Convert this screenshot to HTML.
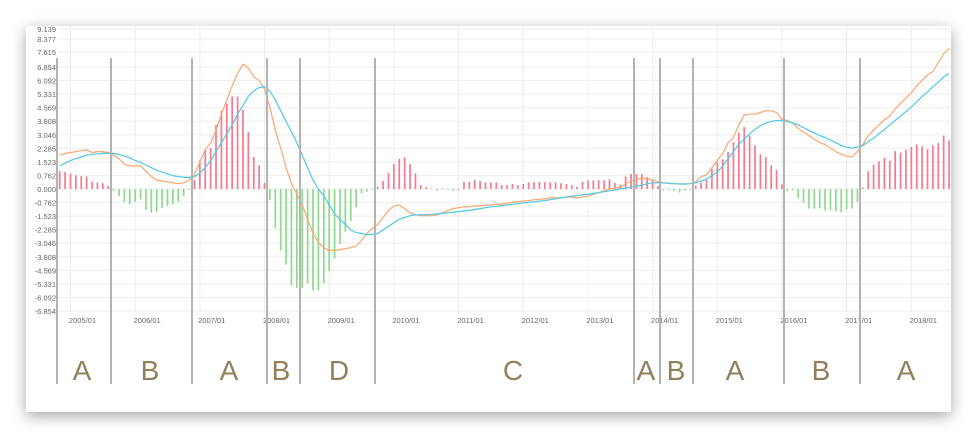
<!DOCTYPE html>
<html><head><meta charset="utf-8"><style>
html,body{margin:0;padding:0;background:#fff;}
body{width:978px;height:445px;overflow:hidden;position:relative;font-family:"Liberation Sans",sans-serif;}
#card{position:absolute;left:26px;top:26px;width:925px;height:386px;background:#fff;box-shadow:0 4px 14px rgba(0,0,0,0.35);}
svg{position:absolute;left:0;top:0;}
</style></head><body>
<div id="card"></div>
<svg id="chart" width="978" height="445"></svg>
<script>
const yTickLabels=["9.139","8.377","7.615","6.854","6.092","5.331","4.569","3.808","3.046","2.285","1.523","0.762","0.000","-0.762","-1.523","-2.285","-3.046","-3.808","-4.569","-5.331","-6.092","-6.854"];
const xTickLabels=["2005/01","2006/01","2007/01","2008/01","2009/01","2010/01","2011/01","2012/01","2013/01","2014/01","2015/01","2016/01","2017/01","2018/01"];
const dif=[1.9,2.0,2.05,2.1,2.15,2.2,2.05,2.1,2.1,2.05,1.9,1.7,1.4,1.3,1.3,1.3,1.0,0.7,0.5,0.45,0.4,0.35,0.3,0.35,0.5,0.8,1.5,2.2,2.6,3.3,4.2,5.0,5.8,6.5,7.0,6.8,6.3,6.1,5.6,4.6,3.3,2.3,1.2,0.3,-0.3,-0.9,-1.7,-2.5,-3.0,-3.3,-3.45,-3.45,-3.4,-3.35,-3.3,-3.2,-2.9,-2.5,-2.2,-2.0,-1.6,-1.2,-0.95,-0.9,-1.1,-1.35,-1.45,-1.5,-1.5,-1.5,-1.45,-1.35,-1.2,-1.1,-1.05,-1.0,-1.0,-0.95,-0.95,-0.9,-0.9,-0.85,-0.85,-0.8,-0.75,-0.7,-0.68,-0.65,-0.6,-0.58,-0.55,-0.5,-0.5,-0.5,-0.45,-0.45,-0.5,-0.45,-0.4,-0.3,-0.2,-0.1,0.0,0.05,0.1,0.3,0.45,0.55,0.6,0.6,0.5,0.4,0.35,0.3,0.3,0.28,0.28,0.3,0.4,0.7,0.8,1.2,1.6,2.0,2.6,2.9,3.6,4.15,4.2,4.2,4.3,4.4,4.4,4.3,3.9,3.85,3.7,3.4,3.2,3.0,2.8,2.6,2.5,2.3,2.1,1.95,1.85,1.8,2.1,2.5,3.0,3.3,3.6,3.9,4.1,4.5,4.8,5.1,5.4,5.8,6.1,6.4,6.6,7.1,7.6,7.9];
const dea=[1.3,1.45,1.6,1.7,1.8,1.9,1.95,1.98,2.0,2.0,2.0,1.95,1.85,1.75,1.6,1.5,1.35,1.2,1.05,0.95,0.85,0.75,0.7,0.65,0.65,0.7,0.9,1.2,1.6,2.1,2.6,3.1,3.6,4.2,4.7,5.2,5.5,5.7,5.75,5.5,5.0,4.4,3.8,3.2,2.6,1.9,1.2,0.5,0.0,-0.4,-0.9,-1.4,-1.7,-2.0,-2.3,-2.45,-2.5,-2.55,-2.55,-2.5,-2.3,-2.1,-1.9,-1.7,-1.6,-1.5,-1.45,-1.45,-1.45,-1.42,-1.4,-1.37,-1.33,-1.3,-1.27,-1.23,-1.2,-1.15,-1.1,-1.05,-1.0,-0.97,-0.93,-0.9,-0.86,-0.82,-0.78,-0.75,-0.72,-0.68,-0.65,-0.6,-0.55,-0.5,-0.45,-0.4,-0.37,-0.33,-0.3,-0.25,-0.2,-0.15,-0.1,-0.05,0.0,0.05,0.1,0.15,0.2,0.3,0.35,0.35,0.35,0.33,0.3,0.28,0.28,0.3,0.35,0.45,0.55,0.75,0.95,1.3,1.7,2.1,2.5,2.8,3.1,3.35,3.55,3.7,3.8,3.85,3.85,3.8,3.7,3.6,3.45,3.3,3.15,3.0,2.9,2.75,2.6,2.45,2.35,2.3,2.35,2.45,2.65,2.85,3.1,3.35,3.6,3.85,4.1,4.35,4.6,4.9,5.2,5.45,5.75,6.0,6.3,6.5];
const hist=[1.0,0.95,0.86,0.77,0.73,0.7,0.4,0.36,0.33,0.17,-0.1,-0.4,-0.73,-0.85,-0.73,-0.6,-1.16,-1.33,-1.3,-1.07,-0.97,-0.85,-0.73,-0.4,-0.05,0.5,1.6,2.2,2.3,3.6,4.4,4.8,5.2,5.2,4.45,3.2,1.8,1.33,0.34,-0.6,-2.2,-3.45,-4.25,-5.4,-5.55,-5.55,-5.3,-5.7,-5.7,-5.3,-4.6,-3.9,-3.1,-2.4,-1.8,-1.03,-0.25,-0.15,-0.05,0.13,0.45,0.9,1.4,1.7,1.78,1.4,0.88,0.22,0.1,0.04,-0.09,0.04,-0.05,-0.09,0.0,0.4,0.4,0.5,0.45,0.37,0.37,0.37,0.22,0.22,0.28,0.22,0.28,0.37,0.38,0.4,0.4,0.37,0.37,0.32,0.28,0.22,0.13,0.4,0.48,0.48,0.5,0.49,0.54,0.34,0.24,0.71,0.84,0.84,0.84,0.67,0.49,0.17,-0.06,-0.06,-0.1,-0.2,-0.1,-0.06,0.2,0.36,0.52,1.14,1.5,1.67,2.08,2.64,3.16,3.48,3.0,2.45,1.95,1.8,1.33,1.05,0.26,-0.13,-0.07,-0.5,-0.77,-1.1,-1.1,-1.1,-1.2,-1.2,-1.25,-1.3,-1.14,-1.1,-0.73,0.07,1.0,1.37,1.55,1.76,1.6,2.13,2.04,2.2,2.36,2.5,2.4,2.23,2.45,2.58,3.0,2.73];
const phaseLabels=["A","B","A","B","D","C","A","B","A","B","A"];

const NS="http://www.w3.org/2000/svg";
const svg=document.getElementById('chart');
const X0=59.7,DX=5.39,ZERO=189,PX=17.8;
function xIdx(i){return X0+DX*i;}
function xYear(y){return X0+DX*((y-2004)*12-10);}
function yVal(v){return ZERO-v*PX;}
function mk(t,a){const e=document.createElementNS(NS,t);for(const k in a)e.setAttribute(k,a[k]);svg.appendChild(e);return e;}

const yLabelPos=[29,39,52];
yTickLabels.forEach((s,k)=>{
  const y=k<3?yLabelPos[k]:yVal(parseFloat(s));
  const g=mk('line',{x1:58,x2:950,y1:y,y2:y,stroke:'#eeeeee','stroke-width':1});
  
  
  const t=mk('text',{x:56,y:y+3,'text-anchor':'end','font-size':7.5,fill:'#666'});
  t.textContent=s;
  
  
});
xTickLabels.forEach((s,k)=>{
  const x=xYear(2005+k);
  const g=mk('line',{x1:x,x2:x,y1:26,y2:313,stroke:'#eeeeee','stroke-width':1});
  
  
  const t=mk('text',{x:x+12,y:323,'text-anchor':'middle','font-size':7.5,fill:'#666'});
  t.textContent=s;
  
  
});
hist.forEach((v,i)=>{
  const x=xIdx(i),y=yVal(v);
  const r=mk('rect',{x:x-0.85,y:Math.min(y,ZERO),width:1.7,height:Math.max(Math.abs(y-ZERO),0.8),fill:v>=0?'#f47a8f':'#8fd88f'});
  
  
});
function line(arr,color,name){
  const d=arr.map((v,i)=>(i?'L':'M')+xIdx(i).toFixed(1)+','+yVal(v).toFixed(1)).join('');
  const p=mk('path',{d:d,fill:'none',stroke:color,'stroke-width':1.2});
  
  
}
line(dif,'#fba56f','dif-line');
line(dea,'#4fc8e6','dea-line');
const sepX=[57,111,192,267,300,375,634,660,693,784,860];
sepX.forEach(x=>{
  const l=mk('line',{x1:x,x2:x,y1:58,y2:384,stroke:'#b3b3b3','stroke-width':2});
  
  
});
const labX=[82,150,229,281,339,513,646,676,735,821,906];
phaseLabels.forEach((s,k)=>{
  const t=mk('text',{x:labX[k],y:380,'text-anchor':'middle','font-size':28,fill:'#937f5a'});
  t.textContent=s;
  
  
});
</script>
</body></html>
